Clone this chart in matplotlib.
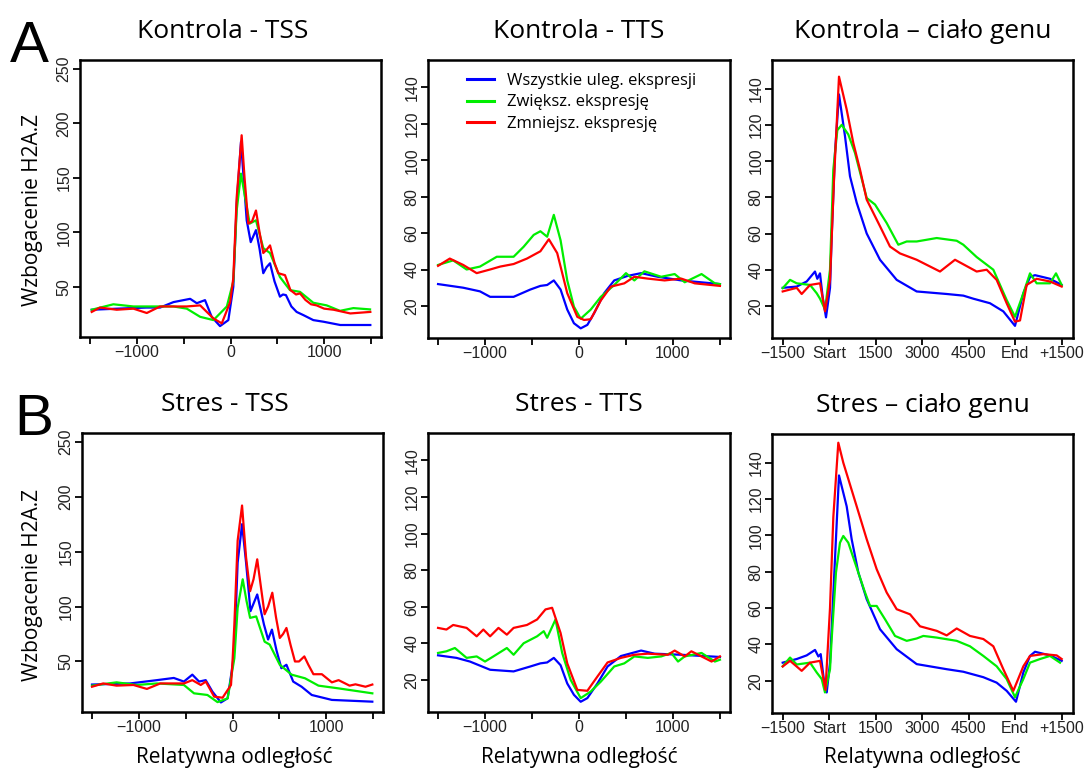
import matplotlib
matplotlib.use("Agg")
import matplotlib.pyplot as plt

# ---------------- data ----------------
colors = {"all": "#0000FF", "up": "#00EE00", "down": "#FF0000"}
legend_labels = ["Wszystkie uleg. ekspresji", "Zwiększ. ekspresję", "Zmniejsz. ekspresję"]

# Kontrola - TSS
k_tss_blue_x = [-1482, -1200, -900, -752, -609, -431, -360, -272, -201, -112, -23, 30, 66, 112, 140, 173, 216, 272, 310, 350, 385, 422, 470, 528, 560, 592, 650, 706, 780, 884, 993, 1172, 1493]
k_tss_blue_y = [29, 30, 31, 31, 36, 39, 35, 37.8, 22.5, 14, 19.5, 50, 126, 183, 150, 111, 91, 102, 85, 62.5, 68, 71.6, 55, 41, 43, 42.4, 32, 27, 24, 19.5, 18, 15, 15]
k_tss_green_x = [-1482, -1251, -1037, -800, -609, -467, -324, -182, -39, 30, 66, 112, 150, 205, 272, 350, 422, 528, 635, 742, 884, 1027, 1169, 1312, 1490]
k_tss_green_y = [29, 34, 32, 32, 32, 30, 22.5, 19.5, 32, 55, 120, 153.8, 135, 108, 111, 85.5, 81, 59, 47, 45.4, 35.4, 33, 28, 30.5, 29.3]
k_tss_red_x = [-1482, -1393, -1215, -1037, -894, -752, -467, -324, -182, -93, -4, 30, 66, 119, 150, 190, 230, 272, 310, 350, 385, 422, 470, 510, 582, 640, 700, 742, 800, 860, 919, 1000, 1101, 1279, 1493]
k_tss_red_y = [27, 31, 29, 30, 26, 32, 32, 33, 21, 16.5, 36, 58, 132, 189, 150, 108, 110, 120, 100, 81, 84, 88, 72, 62.5, 60.7, 47, 43, 44, 38, 34, 33, 30, 29, 25.6, 27]

# Kontrola - TTS
k_tts_blue_x = [-1500, -1232, -1054, -946, -696, -518, -411, -339, -268, -196, -125, -54, 18, 89, 161, 268, 375, 518, 661, 839, 1089, 1500]
k_tts_blue_y = [32, 30, 28, 25, 25, 29, 31, 31.5, 34, 29, 18, 10.5, 7.7, 9.6, 16, 27, 34, 36.5, 38, 36, 34, 32]
k_tts_green_x = [-1500, -1339, -1196, -1054, -875, -696, -589, -482, -411, -339, -268, -196, -125, -54, 18, 125, 232, 375, 500, 589, 696, 875, 1018, 1125, 1304, 1446, 1500]
k_tts_green_y = [42.5, 45, 40, 41.6, 47, 47, 52.5, 59, 61, 58, 70, 56, 34, 19.6, 13, 18, 25, 31.5, 38, 34, 39, 36, 37.5, 33, 37.5, 32.4, 32]
k_tts_red_x = [-1500, -1375, -1232, -1089, -946, -839, -696, -554, -411, -321, -232, -125, -18, 54, 125, 232, 339, 482, 589, 732, 911, 1089, 1232, 1500]
k_tts_red_y = [42, 46, 42.5, 38, 40, 41.6, 43, 46, 50, 56.6, 49, 27, 14, 12.3, 12.7, 23, 30.6, 32.4, 36, 35, 34, 35, 32.4, 31]

# Kontrola - ciało genu (Start = 0, End = 6000)
k_body_blue_x = [-1500, -1048, -726, -458, -383, -297, -211, -103, 27, 80, 187, 316, 510, 671, 887, 1210, 1639, 2177, 2822, 3790, 4327, 4650, 5187, 5617, 5994, 6263, 6478, 6639, 7123, 7500]
k_body_blue_y = [30, 30.7, 33.5, 39, 35, 38, 25, 13.7, 30, 58, 104.5, 136.8, 113.7, 91.6, 77, 60, 45.5, 34.4, 28, 26.6, 25.7, 24, 21.5, 17, 9, 27, 36, 37, 35, 31.6]
k_body_green_x = [-1500, -1263, -1048, -618, -403, -296, -134, 26, 133, 262, 403, 616, 832, 1210, 1478, 1854, 2230, 2500, 2823, 3468, 4113, 4327, 4757, 5295, 5725, 5994, 6263, 6478, 6693, 7123, 7317, 7500]
k_body_green_y = [29.8, 34.4, 32.5, 31.6, 27, 24, 18, 40, 95.3, 117, 120, 114.7, 104.5, 79.6, 76, 65.8, 53.8, 55.6, 55.6, 57.5, 56, 53.8, 47, 40, 23.3, 14, 27, 38, 32.5, 32.5, 38, 31.6]
k_body_red_x = [-1500, -1048, -887, -618, -296, -134, 27, 156, 316, 564, 778, 994, 1210, 1639, 1961, 2284, 2822, 3575, 4059, 4542, 4757, 5080, 5402, 5725, 5994, 6156, 6370, 6693, 7123, 7500]
k_body_red_y = [28, 30, 26.6, 31.6, 32.5, 17, 34.4, 90, 146.6, 128.5, 110, 95.3, 78.7, 64, 52.8, 49, 45.5, 39, 45.5, 41, 39, 40, 34.4, 21.5, 11.3, 12, 31.6, 35, 33.5, 30.7]

# Stres - TSS
s_tss_blue_x = [-1500, -1094, -807, -627, -519, -429, -357, -286, -214, -124, -52, 2, 20, 55, 102, 145, 192, 264, 336, 380, 421, 470, 522, 576, 648, 738, 846, 1061, 1493]
s_tss_blue_y = [29, 30, 33, 35, 31.7, 38, 31.7, 33, 22.5, 12.7, 16.5, 47, 62, 140, 175, 140, 95.8, 111, 83.6, 70, 79, 60, 43.9, 47, 31.7, 27, 19.5, 15, 13.4]
s_tss_green_x = [-1500, -1238, -1022, -807, -519, -411, -268, -160, -52, 20, 55, 109, 150, 188, 253, 343, 397, 505, 631, 774, 918, 1133, 1493]
s_tss_green_y = [28, 31, 28.6, 30, 28.6, 21, 19.5, 13, 16.4, 53, 98.8, 124.8, 105, 89.7, 91, 68, 65.4, 47, 38, 34.7, 28, 25.5, 21]
s_tss_red_x = [-1500, -1381, -1238, -1058, -914, -771, -519, -429, -339, -285, -196, -106, -16, 2, 20, 55, 102, 145, 188, 225, 264, 300, 343, 380, 425, 465, 505, 540, 576, 620, 667, 710, 767, 810, 864, 954, 1061, 1133, 1250, 1313, 1420, 1493]
s_tss_red_y = [27, 30, 28, 28.6, 25, 30, 30, 33, 28.6, 31.7, 18, 17, 28.6, 53, 84, 160, 192, 144.6, 114, 125, 143, 120, 93, 100, 112.6, 90, 71.4, 75, 80.5, 65, 50, 50, 54.6, 47, 38.4, 38.4, 31, 33, 28, 29.2, 27, 29]

# Stres - TTS
s_tts_blue_x = [-1500, -1304, -1161, -946, -696, -518, -411, -339, -268, -196, -125, -54, 18, 89, 196, 304, 446, 661, 804, 1089, 1500]
s_tts_blue_y = [33.4, 32, 30, 25.5, 24.6, 27.3, 29, 29.5, 32, 28, 18, 11.8, 8, 10, 18, 27.3, 33, 36, 34.3, 33.7, 32.5]
s_tts_green_x = [-1500, -1411, -1321, -1196, -1089, -1000, -911, -768, -696, -589, -446, -375, -339, -250, -179, -89, 18, 125, 232, 375, 482, 589, 732, 875, 982, 1054, 1125, 1304, 1446, 1500]
s_tts_green_y = [34.7, 35.6, 37.4, 32, 32.8, 30, 32.8, 37.4, 33.7, 40, 43.8, 46.6, 43, 53, 34.7, 20, 10, 13.6, 19, 27.3, 29, 32.8, 32, 32.8, 34.7, 30, 32.8, 34.7, 30, 31]
s_tts_red_x = [-1500, -1411, -1339, -1196, -1089, -1018, -946, -857, -768, -696, -554, -446, -357, -286, -196, -125, -18, 89, 196, 304, 446, 589, 732, 946, 1018, 1125, 1196, 1304, 1411, 1500]
s_tts_red_y = [48.4, 47.5, 50, 48.4, 43.8, 47.5, 43.8, 48.4, 44.7, 48.4, 50, 53, 58.5, 59.4, 45.6, 29, 14.5, 14, 21.8, 29.5, 32, 33.7, 34.3, 33.7, 36, 32.8, 35.6, 32.8, 30, 32.8]

# Stres - ciało genu
s_body_blue_x = [-1500, -1048, -726, -457, -349, -274, -134, -80, 27, 156, 316, 564, 725, 940, 1210, 1639, 2177, 2822, 3790, 4327, 4972, 5402, 5725, 6026, 6263, 6478, 6639, 7123, 7500]
s_body_blue_y = [30, 32, 34, 37, 33.4, 34.7, 15.4, 13.6, 30, 76, 133, 116, 97.9, 79.6, 64.9, 48.4, 37.4, 29.2, 26.4, 25, 22, 19, 14.5, 8.5, 24.6, 33.7, 36, 34, 31]
s_body_green_x = [-1500, -1263, -1048, -618, -403, -242, -136, 27, 80, 219, 348, 455, 616, 832, 1156, 1317, 1532, 1800, 2123, 2500, 2822, 3037, 3468, 4113, 4542, 4972, 5402, 5725, 5994, 6263, 6478, 6801, 7123, 7446]
s_body_green_y = [28, 32.8, 29, 30, 24.6, 21, 13.6, 26.4, 43, 79.6, 96, 99.7, 96, 85, 68.6, 61.2, 61.2, 53.9, 44.7, 42, 43.3, 44.7, 43.8, 42, 39, 33.7, 28, 21, 11, 21, 30, 32, 33.7, 30]
s_body_red_x = [-1500, -1263, -887, -618, -296, -120, 26, 133, 294, 455, 671, 887, 1210, 1532, 1854, 2177, 2608, 2930, 3468, 3790, 4113, 4542, 4972, 5295, 5617, 5940, 6263, 6478, 6908, 7338, 7500]
s_body_red_y = [27.9, 31, 25.5, 30, 31, 15, 60, 110, 151, 140, 128, 116, 97.9, 81.4, 68.6, 59.4, 56.6, 50, 47.5, 45, 48.8, 44.7, 43, 39, 26.4, 14.5, 28, 33.7, 34.7, 34, 32]

titles = ["Kontrola - TSS", "Kontrola - TTS", "Kontrola \u2013 ciało genu",
          "Stres - TSS", "Stres - TTS", "Stres \u2013 ciało genu"]
ylabel = "Wzbogacenie H2A.Z"
xlabel = "Relatywna odległość"

tss_yticks = [50, 100, 150, 200, 250]
tts_yticks = [20, 40, 60, 80, 100, 120, 140]
dist_xticks = [-1500, -1000, -500, 0, 500, 1000, 1500]
dist_xlabels = ["", "\u22121000", "", "0", "", "1000", ""]
body_xticks = [-1500, 0, 1500, 3000, 4500, 6000, 7500]
body_xlabels = ["\u22121500", "Start", "1500", "3000", "4500", "End", "+1500"]

panels = [
    (k_tss_blue_x, k_tss_blue_y, k_tss_green_x, k_tss_green_y, k_tss_red_x, k_tss_red_y),
    (k_tts_blue_x, k_tts_blue_y, k_tts_green_x, k_tts_green_y, k_tts_red_x, k_tts_red_y),
    (k_body_blue_x, k_body_blue_y, k_body_green_x, k_body_green_y, k_body_red_x, k_body_red_y),
    (s_tss_blue_x, s_tss_blue_y, s_tss_green_x, s_tss_green_y, s_tss_red_x, s_tss_red_y),
    (s_tts_blue_x, s_tts_blue_y, s_tts_green_x, s_tts_green_y, s_tts_red_x, s_tts_red_y),
    (s_body_blue_x, s_body_blue_y, s_body_green_x, s_body_green_y, s_body_red_x, s_body_red_y),
]

# ---------------- figure ----------------
W, H = 1088, 769
fig = plt.figure(figsize=(W / 100, H / 100), dpi=100)
fig.patch.set_facecolor("white")

title_font = "Open Sans"
tick_font = "Liberation Sans"
tick_color = "#222222"

# pixel boxes (left, top, right, bottom)
boxes = [
    (80, 60, 381, 337), (428, 60, 730, 338), (772, 60, 1073, 338),
    (82, 433, 383, 712), (428, 433, 730, 712), (772, 434, 1073, 713),
]

def px_axes(b):
    l, t, r, bt = b
    return fig.add_axes([l / W, 1 - bt / H, (r - l) / W, (bt - t) / H])

for i, b in enumerate(boxes):
    ax = px_axes(b)
    bx, by, gx, gy, rx, ry = panels[i]
    col = i % 3
    l1, = ax.plot(bx, by, color=colors["all"], lw=1.6, solid_joinstyle="round")
    l2, = ax.plot(gx, gy, color=colors["up"], lw=1.6, solid_joinstyle="round")
    l3, = ax.plot(rx, ry, color=colors["down"], lw=1.6, solid_joinstyle="round")
    if col == 0:
        ax.set_ylim(4, 258)
        ax.set_yticks(tss_yticks)
        ax.set_xlim(-1607, 1607)
        ax.set_xticks(dist_xticks)
        ax.set_xticklabels(dist_xlabels)
    elif col == 1:
        ax.set_ylim(2.4, 155)
        ax.set_yticks(tts_yticks)
        ax.set_xlim(-1607, 1607)
        ax.set_xticks(dist_xticks)
        ax.set_xticklabels(dist_xlabels)
    else:
        ax.set_ylim(2.3, 155.8)
        ax.set_yticks(tts_yticks)
        ax.set_xlim(-1845, 7865)
        ax.set_xticks(body_xticks)
        ax.set_xticklabels(body_xlabels)
    for s in ax.spines.values():
        s.set_linewidth(1.8)
        s.set_color("black")
    ax.tick_params(axis="both", direction="out", length=5, width=1.3, color="black",
                   labelsize=11.5, labelcolor=tick_color, pad=1)
    for lab in ax.get_yticklabels():
        lab.set_rotation(90)
        lab.set_va("center")
        lab.set_family(tick_font)
    for lab in ax.get_xticklabels():
        lab.set_family(tick_font)
    if i == 1:
        leg = ax.legend([l1, l2, l3], legend_labels, loc="upper left",
                        bbox_to_anchor=(0.13, 0.955), frameon=False,
                        prop={"family": title_font, "size": 12},
                        handlelength=1.6, handletextpad=0.8, labelspacing=0.35,
                        borderpad=0, borderaxespad=0)
        for h in leg.legend_handles:
            h.set_linewidth(2.2)
    l, t, r, bt = b
    fig.text(((l + r) / 2 - (8 if col == 0 else 0)) / W, 1 - (t - 22) / H, titles[i],
             ha="center", va="baseline", fontsize=19, family=title_font, color="black")

# y labels
for yc in (210, 585):
    fig.text(33 / W, 1 - yc / H, ylabel, rotation=90, ha="center", va="center",
             fontsize=15, family=title_font)
# x labels
for xc in (234, 579, 922):
    fig.text(xc / W, 1 - 757 / H, xlabel, ha="center", va="center",
             fontsize=15, family=title_font)

# panel letters
fig.text(10 / W, 1 - 62 / H, "A", fontsize=42, family="Liberation Sans", va="baseline", ha="left")
fig.text(14 / W, 1 - 435 / H, "B", fontsize=42, family="Liberation Sans", va="baseline", ha="left")

fig.savefig("out.png", dpi=100)
